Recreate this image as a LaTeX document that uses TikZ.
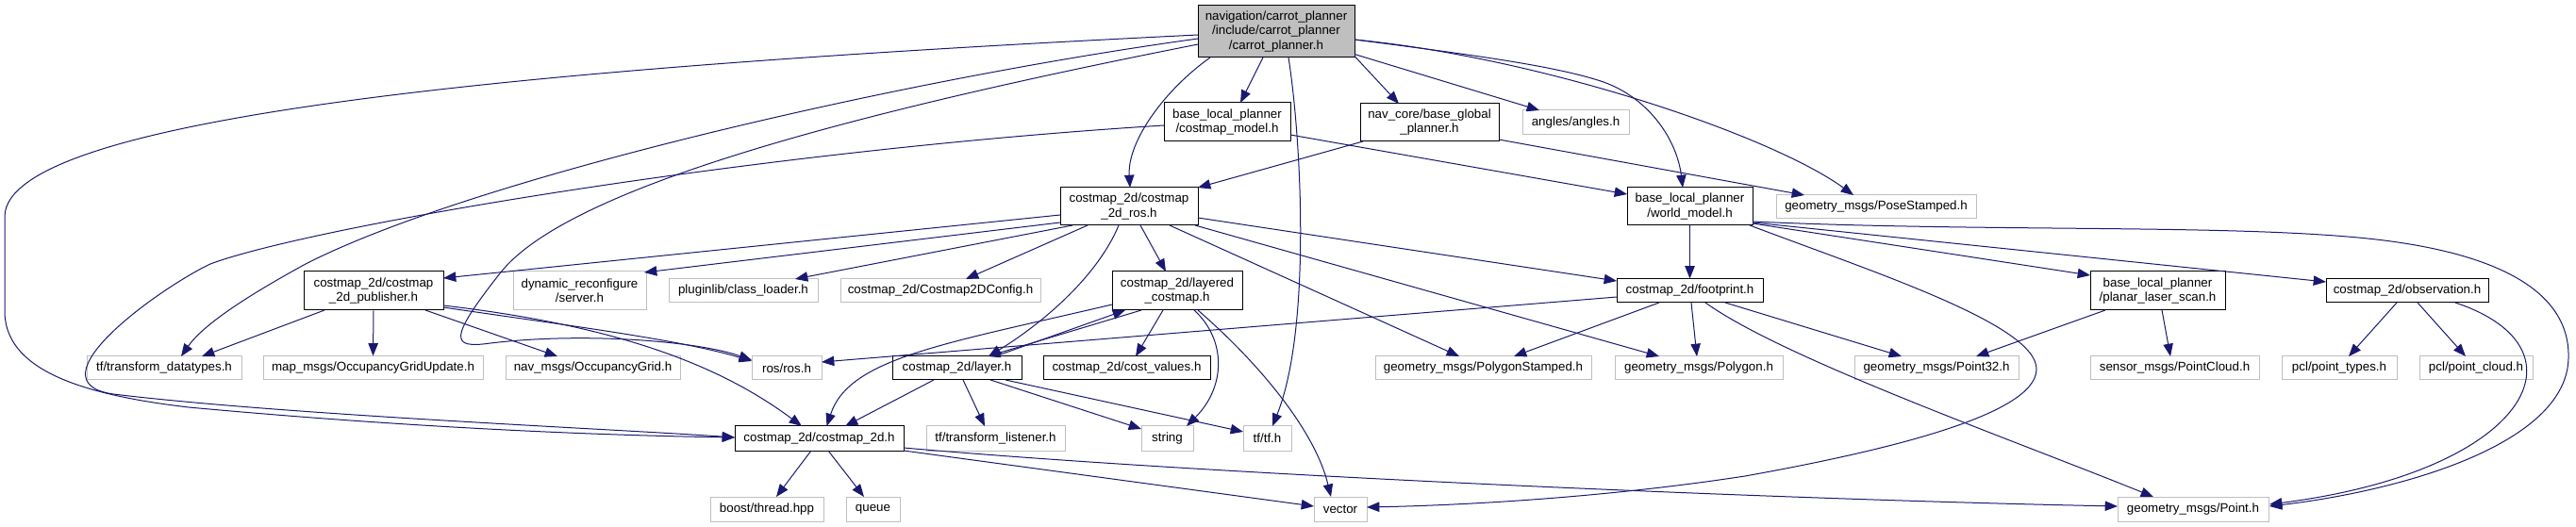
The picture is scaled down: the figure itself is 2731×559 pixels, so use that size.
\documentclass[tikz,border=0pt]{standalone}
\usepackage{fontspec}
\setmainfont{Liberation Sans}
\usetikzlibrary{arrows.meta,calc}
\definecolor{edgeblue}{HTML}{191970}
\definecolor{gborder}{HTML}{BFBFBF}
\tikzset{
 nbox/.style={draw=black, line width=0.75pt, fill=white, inner sep=0pt, align=center, font=\fontsize{10}{11.3}\selectfont, text=black},
 ext/.style={nbox, draw=gborder},
 rootbox/.style={nbox, fill=gborder},
 bw/.style={minimum width=#1*0.75pt},
 bh/.style={minimum height=#1*0.75pt},
 dep/.style={draw=edgeblue, line width=0.75pt, -{Triangle[length=10pt,width=7.8pt]}},
}
\begin{document}
\begin{tikzpicture}[x=0.75pt,y=-0.75pt]
\fill[white] (0,0) rectangle (2731,559);
\useasboundingbox (0,0) rectangle (2731,559);
% nodes
\node[rootbox,bw=166,bh=55] (root) at (1353,33.5) {navigation/carrot\_planner\\/include/carrot\_planner\\/carrot\_planner.h};
\node[nbox,bw=134,bh=41] (cmodel) at (1301,129.5) {base\_local\_planner\\/costmap\_model.h};
\node[nbox,bw=147,bh=40] (navcore) at (1515.5,130) {nav\_core/base\_global\\\_planner.h};
\node[ext,bw=113,bh=26] (angles) at (1670.5,130) {angles/angles.h};
\node[nbox,bw=146,bh=40] (cros) at (1197,219) {costmap\_2d/costmap\\\_2d\_ros.h};
\node[nbox,bw=133,bh=40] (world) at (1791.5,219) {base\_local\_planner\\/world\_model.h};
\node[ext,bw=212,bh=25] (pose) at (1989,219.5) {geometry\_msgs/PoseStamped.h};
\node[nbox,bw=148,bh=41] (pub) at (396,308.5) {costmap\_2d/costmap\\\_2d\_publisher.h};
\node[ext,bw=141,bh=41] (dyn) at (614.5,308.5) {dynamic\_reconfigure\\/server.h};
\node[ext,bw=158,bh=25] (plug) at (788,308.5) {pluginlib/class\_loader.h};
\node[ext,bw=212,bh=25] (cfg) at (997,308.5) {costmap\_2d/Costmap2DConfig.h};
\node[nbox,bw=138,bh=41] (layered) at (1248,308.5) {costmap\_2d/layered\\\_costmap.h};
\node[nbox,bw=155,bh=25] (foot) at (1791.5,308.5) {costmap\_2d/footprint.h};
\node[nbox,bw=143,bh=41] (planar) at (2287.5,308.5) {base\_local\_planner\\/planar\_laser\_scan.h};
\node[nbox,bw=172,bh=25] (obs) at (2552,308.5) {costmap\_2d/observation.h};
\node[ext,bw=164,bh=25] (tdt) at (174,390.5) {tf/transform\_datatypes.h};
\node[ext,bw=233,bh=25] (ogu) at (395.5,390.5) {map\_msgs/OccupancyGridUpdate.h};
\node[ext,bw=185,bh=25] (og) at (628.5,390.5) {nav\_msgs/OccupancyGrid.h};
\node[ext,bw=74,bh=25] (ros) at (834,390.5) {ros/ros.h};
\node[nbox,bw=137,bh=25] (layer) at (1014.5,390.5) {costmap\_2d/layer.h};
\node[nbox,bw=177,bh=25] (cost) at (1194.5,390.5) {costmap\_2d/cost\_values.h};
\node[ext,bw=229,bh=25] (pstamp) at (1572.5,390.5) {geometry\_msgs/PolygonStamped.h};
\node[ext,bw=178,bh=25] (poly) at (1801,390.5) {geometry\_msgs/Polygon.h};
\node[ext,bw=174,bh=25] (p32) at (2053,390.5) {geometry\_msgs/Point32.h};
\node[ext,bw=179,bh=25] (pcloud) at (2305.5,390.5) {sensor\_msgs/PointCloud.h};
\node[ext,bw=122,bh=25] (ptypes) at (2480,390.5) {pcl/point\_types.h};
\node[ext,bw=120,bh=25] (pcl) at (2625,390.5) {pcl/point\_cloud.h};
\node[nbox,bw=179,bh=26] (c2d) at (868.5,465) {costmap\_2d/costmap\_2d.h};
\node[ext,bw=147,bh=26] (tlist) at (1055.5,465) {tf/transform\_listener.h};
\node[ext,bw=55,bh=26] (string) at (1237.5,465) {string};
\node[ext,bw=51,bh=26] (tftf) at (1343.5,465) {tf/tf.h};
\node[ext,bw=120,bh=26] (boost) at (813,540) {boost/thread.hpp};
\node[ext,bw=57,bh=26] (queue) at (925.5,540) {queue};
\node[ext,bw=56,bh=26] (vector) at (1421,540) {vector};
\node[ext,bw=160,bh=26] (point) at (2325,540) {geometry\_msgs/Point.h};
% edges from root
\draw[dep] ($(root)+(-14,27.5)$) -- ($(cmodel)+(14,-20.5)$);
\draw[dep] ($(root)+(83,26)$) -- ($(navcore)+(-32.5,-20)$);
\draw[dep] ($(root)+(83,24)$) -- ($(angles)+(-38.5,-13)$);
\draw[dep] ($(root)+(-70,27.5)$) .. controls (1235,95) and (1195,150) .. ($(cros)+(1,-20)$);
\draw[dep] ($(root)+(83,8.5)$) .. controls (1560,58) and (1650,70) .. (1700,87) .. controls (1750,105) and (1778,150) .. ($(world)+(-7.5,-20)$);
\draw[dep] ($(root)+(83,8.5)$) .. controls (1640,62) and (1880,145) .. ($(pose)+(-24,-12.5)$);
\draw[dep] ($(root)+(13,27.5)$) .. controls (1380,150) and (1390,350) .. ($(tftf)+(5.5,-13)$);
\draw[dep] ($(root)+(-83,7.5)$) .. controls (950,85) and (500,190) .. (324,280) .. controls (260,315) and (215,345) .. ($(tdt)+(18,-12.5)$);
\draw[dep] ($(root)+(-83,3.5)$) .. controls (600,70) and (5,120) .. (5,230) -- (5,330) .. controls (5,390) and (80,418) .. (200,432) .. controls (450,455) and (650,462) .. ($(c2d)+(-89.5,-1)$);
\draw[dep] ($(root)+(-83,13.5)$) .. controls (900,120) and (600,200) .. (530,290) .. controls (475,360) and (478,370) .. (520,364) .. controls (620,352) and (740,362) .. ($(ros)+(-37,-8.5)$);
% costmap_model
\draw[dep] ($(cmodel)+(67,13.5)$) -- ($(world)+(-66.5,-13)$);
\draw[dep] ($(cmodel)+(-67,3.5)$) .. controls (800,160) and (330,240) .. (223,280) .. controls (170,305) and (30,405) .. (120,418) .. controls (300,440) and (650,455) .. ($(c2d)+(-89.5,-1)$);
% nav_core
\draw[dep] ($(navcore)+(-70.5,20)$) -- ($(cros)+(73,-20)$);
\draw[dep] ($(navcore)+(73.5,18)$) -- ($(pose)+(-76,-12.5)$);
% world_model
\draw[dep] (world.south) -- (foot.north);
\draw[dep] ($(world)+(66.5,18)$) -- ($(planar)+(-71.5,-16.5)$);
\draw[dep] ($(world)+(66.5,17)$) -- ($(obs)+(-86,-9.5)$);
\draw[dep] ($(world)+(66.5,16)$) .. controls (2100,246) and (2350,238) .. (2500,252) .. controls (2650,266) and (2725,310) .. (2723,380) .. controls (2721,470) and (2550,520) .. ($(point)+(81,-3)$);
\draw[dep] ($(world)+(63.5,20)$) .. controls (1990,290) and (2160,345) .. (2159,392) .. controls (2158,440) and (2000,478) .. (1850,505) .. controls (1700,528) and (1550,536) .. ($(vector)+(28,-2)$);
% footprint
\draw[dep] ($(foot)+(-77.5,6.5)$) -- ($(ros)+(37,-6.5)$);
\draw[dep] ($(foot)+(-32.5,12.5)$) -- ($(pstamp)+(32.5,-12.5)$);
\draw[dep] ($(foot)+(1.5,12.5)$) -- ($(poly)+(-2,-12.5)$);
\draw[dep] ($(foot)+(37.5,12.5)$) -- ($(p32)+(-37,-12.5)$);
\draw[dep] ($(foot)+(16.5,12.5)$) .. controls (1890,380) and (2130,465) .. ($(point)+(-42,-13)$);
% costmap_2d_ros
\draw[dep] ($(cros)+(-73,9)$) -- ($(pub)+(74,-13.5)$);
\draw[dep] ($(cros)+(-73,17)$) -- ($(dyn)+(68.5,-19.5)$);
\draw[dep] ($(cros)+(-60,20)$) -- ($(plug)+(55,-12.5)$);
\draw[dep] ($(cros)+(-44,20)$) -- ($(cfg)+(27,-12.5)$);
\draw[dep] ($(cros)+(-11,20)$) .. controls (1165,290) and (1110,340) .. ($(layer)+(33.5,-12.5)$);
\draw[dep] ($(cros)+(12,20)$) -- ($(layered)+(-12,-20.5)$);
\draw[dep] ($(cros)+(43,20)$) -- ($(pstamp)+(-25.5,-12.5)$);
\draw[dep] ($(cros)+(70,20)$) -- ($(poly)+(-42,-12.5)$);
\draw[dep] ($(cros)+(73,12)$) -- ($(foot)+(-77.5,-10.5)$);
% publisher
\draw[dep] ($(pub)+(-52,20.5)$) -- ($(tdt)+(40,-12.5)$);
\draw[dep] (pub.south) -- (ogu.north);
\draw[dep] ($(pub)+(55,20.5)$) -- ($(og)+(-37.5,-12.5)$);
\draw[dep] ($(pub)+(74,17.5)$) .. controls (600,345) and (720,360) .. ($(ros)+(-37,-7.5)$);
\draw[dep] ($(pub)+(74,15.5)$) .. controls (650,345) and (760,385) .. ($(c2d)+(-18.5,-13)$);
% layered costmap
\draw[dep] ($(layered)+(-69,14.5)$) .. controls (1000,365) and (900,380) .. ($(c2d)+(8,-13)$);
\draw[dep] ($(layered)+(-38,20.5)$) -- ($(layer)+(32.5,-12.5)$);
\draw[dep] ($(layer)+(40.5,-12.5)$) -- ($(layered)+(-55,20.5)$);
\draw[dep] ($(layered)+(-15,20.5)$) -- ($(cost)+(9.5,-12.5)$);
\draw[dep] ($(layered)+(18,20.5)$) .. controls (1300,360) and (1300,410) .. ($(string)+(20.5,-13)$);
\draw[dep] ($(layered)+(22,20.5)$) .. controls (1340,390) and (1395,460) .. ($(vector)+(-10,-13)$);
% layer
\draw[dep] ($(layer)+(-24.5,12.5)$) -- ($(c2d)+(27.5,-13)$);
\draw[dep] ($(layer)+(6.5,12.5)$) -- ($(tlist)+(-11.5,-13)$);
\draw[dep] ($(layer)+(35.5,12.5)$) -- ($(string)+(-27.5,-10)$);
\draw[dep] ($(layer)+(51.5,12.5)$) -- ($(tftf)+(-25.5,-7)$);
% costmap_2d
\draw[dep] ($(c2d)+(-8.5,13)$) -- ($(boost)+(10,-13)$);
\draw[dep] ($(c2d)+(9.5,13)$) -- ($(queue)+(-9.5,-13)$);
\draw[dep] ($(c2d)+(89.5,13)$) -- ($(vector)+(-28,-3)$);
\draw[dep] ($(c2d)+(89.5,10)$) .. controls (1300,505) and (1900,530) .. ($(point)+(-80,-3)$);
% planar laser scan
\draw[dep] ($(planar)+(-55.5,20.5)$) -- ($(p32)+(42,-12.5)$);
\draw[dep] ($(planar)+(4.5,20.5)$) -- ($(pcloud)+(-4.5,-12.5)$);
% observation
\draw[dep] ($(obs)+(-11,12.5)$) -- ($(ptypes)+(10,-12.5)$);
\draw[dep] ($(obs)+(11,12.5)$) -- ($(pcl)+(-11,-12.5)$);
\draw[dep] ($(obs)+(51,12.5)$) .. controls (2750,370) and (2680,500) .. ($(point)+(81,-5)$);
\end{tikzpicture}
\end{document}
